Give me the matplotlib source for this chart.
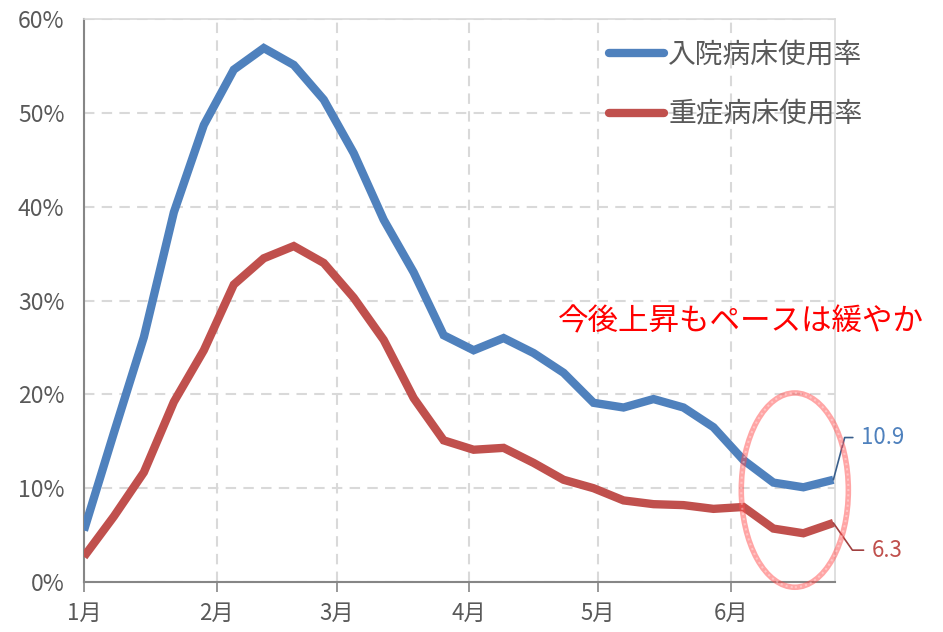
import matplotlib
matplotlib.use("Agg")
import matplotlib.pyplot as plt
import matplotlib.dates as mdates
from matplotlib.patches import Ellipse
import pandas as pd

plt.rcParams['font.family'] = ['Noto Sans CJK JP', 'DejaVu Sans']

# Weekly figures, starting on the first day of the year
start_date = "2022-01-01"
n_weeks = 26
hospital_bed_rate = [5.5, 15.9, 26.1, 39.4, 48.7, 54.6, 56.9, 55.1, 51.4, 45.7,
                     38.6, 33.0, 26.3, 24.7, 26.0, 24.4, 22.3, 19.1, 18.6, 19.5,
                     18.6, 16.5, 13.0, 10.6, 10.1, 10.9]
severe_bed_rate = [2.7, 7.0, 11.7, 19.2, 24.7, 31.7, 34.5, 35.8, 34.0, 30.3,
                   25.8, 19.6, 15.1, 14.1, 14.3, 12.7, 10.9, 10.0, 8.7, 8.3,
                   8.2, 7.8, 8.0, 5.7, 5.2, 6.3]
series_labels = ["入院病床使用率", "重症病床使用率"]

month_starts = ["2022-01-01", "2022-02-01", "2022-03-01",
                "2022-04-01", "2022-05-01", "2022-06-01"]
month_labels = ["1月", "2月", "3月", "4月", "5月", "6月"]
y_ticks = [0, 10, 20, 30, 40, 50, 60]
y_tick_labels = ["0%", "10%", "20%", "30%", "40%", "50%", "60%"]

annotation_text = "今後上昇もペースは緩やか"

BLUE = "#4F81BD"
RED = "#C0504D"
GRAY_TEXT = "#595959"

dates = pd.date_range(start_date, periods=n_weeks, freq="7D")
xnum = mdates.date2num(dates)

fig = plt.figure(figsize=(9.43, 6.32), dpi=100)
ax = fig.add_axes([0.089, 0.079, 0.797, 0.891])

ax.plot(xnum, hospital_bed_rate, color=BLUE, lw=6, solid_capstyle="butt",
        solid_joinstyle="miter", label=series_labels[0], zorder=3)
ax.plot(xnum, severe_bed_rate, color=RED, lw=6, solid_capstyle="butt",
        solid_joinstyle="miter", label=series_labels[1], zorder=3)

ax.set_xlim(xnum[0], xnum[-1] + 0.5)
ax.set_ylim(0, 60)

ax.set_xticks(mdates.date2num(pd.to_datetime(month_starts)))
ax.set_xticklabels(month_labels, fontsize=16, color=GRAY_TEXT)
ax.set_yticks(y_ticks)
ax.set_yticklabels(y_tick_labels, fontsize=16.5, color=GRAY_TEXT)
ax.tick_params(axis="x", length=7, width=1.2, color="#868686", pad=7, direction="out")
ax.tick_params(axis="y", length=0, pad=14)

ax.grid(True, color="#D9D9D9", lw=1.5, linestyle=(0, (5, 3.5)))
ax.set_axisbelow(True)

for side in ("left", "bottom"):
    ax.spines[side].set_color("#868686")
    ax.spines[side].set_linewidth(1.5)
for side in ("top", "right"):
    ax.spines[side].set_color("#D9D9D9")
    ax.spines[side].set_linewidth(1.2)

leg = ax.legend(loc="upper right", bbox_to_anchor=(1.062, 0.997), frameon=False,
                fontsize=20, handlelength=2.0, handletextpad=0.15,
                labelspacing=1.05, borderaxespad=0.3)
for t in leg.get_texts():
    t.set_color(GRAY_TEXT)
for h in leg.legend_handles:
    h.set_solid_capstyle("round")

# Highlight the latest weeks
ellipse = Ellipse((xnum[-1] - 9, 9.8), width=25, height=20.7,
                  fill=False, edgecolor=(1.0, 0.3, 0.3, 0.5), lw=4,
                  clip_on=False, zorder=4)
ax.add_patch(ellipse)
ellipse_texture = Ellipse((xnum[-1] - 9, 9.8), width=25, height=20.7,
                          fill=False, edgecolor=(1.0, 1.0, 1.0, 0.35), lw=1.5,
                          linestyle=(0, (1, 1.5)), clip_on=False, zorder=4)
ax.add_patch(ellipse_texture)

# Value labels for the final week
last_x = xnum[-1]
ax.annotate(f"{hospital_bed_rate[-1]:.1f}", xy=(last_x, hospital_bed_rate[-1]),
            xytext=(last_x + 6.5, 15.4), textcoords="data",
            fontsize=16, color=BLUE, va="center", ha="left",
            annotation_clip=False,
            arrowprops=dict(arrowstyle="-", color="#3A5F8C", lw=1.2,
                            connectionstyle="angle,angleA=0,angleB=75,rad=0",
                            shrinkA=4, shrinkB=0))
ax.annotate(f"{severe_bed_rate[-1]:.1f}", xy=(last_x, severe_bed_rate[-1]),
            xytext=(last_x + 9, 3.4), textcoords="data",
            fontsize=16, color=RED, va="center", ha="left",
            annotation_clip=False,
            arrowprops=dict(arrowstyle="-", color="#A04040", lw=1.2,
                            connectionstyle="angle,angleA=0,angleB=-55,rad=0",
                            shrinkA=4, shrinkB=0))

fig.text(558 / 943, 1 - 322 / 632, annotation_text, fontsize=22,
         color="#FF0000", ha="left", va="center")

fig.savefig("out.png", dpi=100)
